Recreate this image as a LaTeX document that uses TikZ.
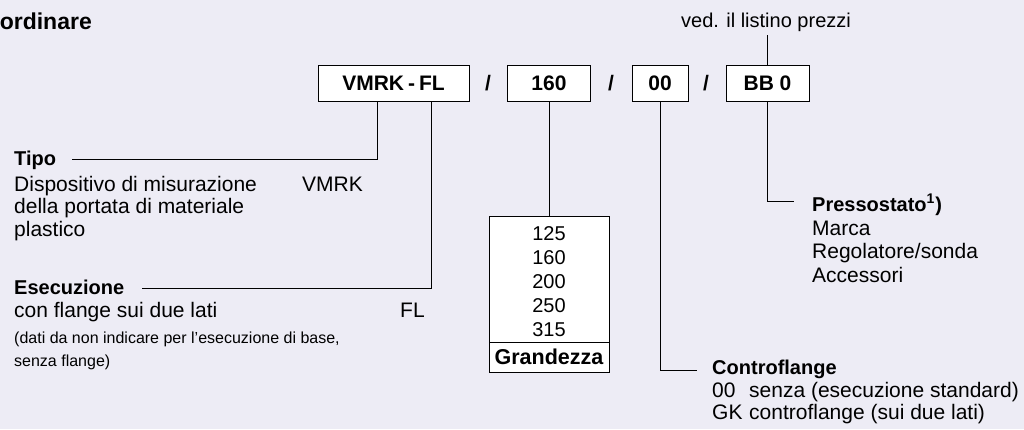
\documentclass[tikz,border=0pt]{standalone}
\usepackage{fontspec}
\setmainfont{Liberation Sans}
\definecolor{bgcol}{RGB}{237,236,245}
\begin{document}
\begin{tikzpicture}[x=1pt,y=-1pt,
  txt/.style={inner sep=0pt, anchor=base west, font=\fontsize{21}{24}\selectfont},
  hd/.style={inner sep=0pt, anchor=base west, font=\fontsize{20}{24}\selectfont\bfseries},
  small/.style={inner sep=0pt, anchor=base west, font=\fontsize{16}{18}\selectfont},
  num/.style={inner sep=0pt, anchor=base, font=\fontsize{20}{24}\selectfont},
  codebox/.style={draw, fill=white, line width=0.9pt, minimum height=36pt, inner sep=0pt, font=\fontsize{21}{25}\selectfont\bfseries},
  slash/.style={inner sep=0pt, font=\fontsize{21}{25}\selectfont\bfseries},
  cell/.style={draw, fill=white, line width=0.9pt, inner sep=0pt, minimum width=120pt},
  conn/.style={line width=0.9pt}]
\fill[bgcol] (0,0) rectangle (1024,429);
\useasboundingbox (0,0) rectangle (1024,429);

% title
\node[inner sep=0pt, anchor=base east, font=\fontsize{23}{27}\selectfont\bfseries] (title) at (92,29) {ordinare};

% code boxes
\node[codebox, minimum width=151pt] (b1) at (393.5,83) {VMRK\hspace{4pt}-\hspace{4pt}FL};
\node[slash] (s1) at (488,83) {/};
\node[codebox, minimum width=83pt] (b2) at (549,83) {160};
\node[slash] (s2) at (611,83) {/};
\node[codebox, minimum width=56pt] (b3) at (660,83) {00};
\node[slash] (s3) at (706,83) {/};
\node[codebox, minimum width=83pt] (b4) at (767.5,83) {BB 0};

% price list
\node[txt, anchor=base, font=\fontsize{20}{24}\selectfont] (price) at (766,27) {ved. il listino prezzi};
\draw[conn] (b4.north) -- ++(0,-30);

% Tipo
\coordinate (tipoE) at (72,159);
\draw[conn] ([xshift=-16.5pt]b1.south) |- (tipoE);
\node[hd] (tipo) at (14,165) {Tipo};
\node[txt] (t1) at (14,191) {Dispositivo di misurazione};
\node[txt] (t2) at (14,213.5) {della portata di materiale};
\node[txt] (t3) at (14,236) {plastico};
\node[txt] (tv) at (302,191) {VMRK};

% Esecuzione
\coordinate (esE) at (142,288);
\draw[conn] ([xshift=37.5pt]b1.south) |- (esE);
\node[hd] (ese) at (14,294) {Esecuzione};
\node[txt] (e1) at (14,317) {con flange sui due lati};
\node[txt] (ev) at (400,317) {FL};
\node[small] (n1) at (14,343) {(dati da non indicare per l’esecuzione di base,};
\node[small] (n2) at (14,366) {senza flange)};

% Grandezza table
\node[cell, minimum height=126pt] (tab) at (549,279) {};
\node[cell, minimum height=30pt, font=\fontsize{21.5}{24}\selectfont\bfseries] (gr) at (549,357) {Grandezza};
\draw[conn] (b2.south) -- (tab.north);
\node[num] (g1) at (549,240) {125};
\node[num] (g2) at (549,264) {160};
\node[num] (g3) at (549,288) {200};
\node[num] (g4) at (549,312) {250};
\node[num] (g5) at (549,336) {315};

% Controflange
\coordinate (cfE) at (697,370);
\draw[conn] (b3.south) |- (cfE);
\node[hd] (cf) at (712,374) {Controflange};
\node[txt] (c1a) at (712,397) {00};
\node[txt] (c1b) at (749,397) {senza (esecuzione standard)};
\node[txt] (c2a) at (712,419) {GK};
\node[txt] (c2b) at (749,419) {controflange (sui due lati)};

% Pressostato
\coordinate (prE) at (794,201);
\draw[conn] (b4.south) |- (prE);
\node[hd] (pr) at (812,211) {Pressostato\textsuperscript{1}\kern0.5pt)};
\node[txt] (p1) at (812,235) {Marca};
\node[txt] (p2) at (812,258.5) {Regolatore/sonda};
\node[txt] (p3) at (812,282) {Accessori};
\end{tikzpicture}
\end{document}
